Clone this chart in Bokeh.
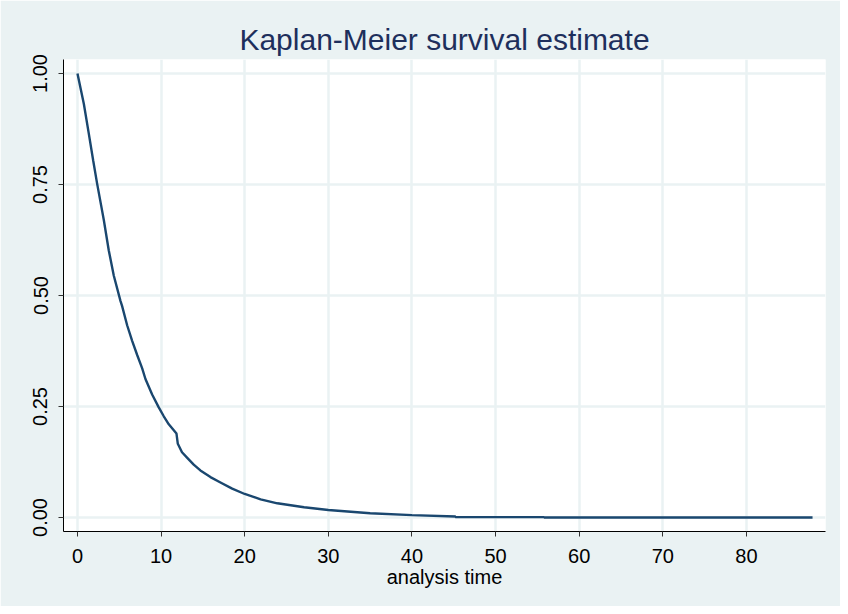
from bokeh.plotting import figure
from bokeh.models import Range1d, FixedTicker
from bokeh.embed import file_html
from bokeh.resources import INLINE

# Kaplan-Meier survival estimate
analysis_time = [0.0, 0.76, 1.36, 1.88, 2.35, 2.83, 3.15, 3.74, 4.34, 5.14, 5.34, 5.94,
                 6.54, 7.14, 7.74, 8.13, 8.93, 9.72, 10.32, 10.92, 11.84, 12.0, 12.5,
                 13.1, 13.9, 14.7, 15.9, 17.1, 18.5, 20.0, 21.9, 23.9, 27.1, 30.0,
                 35.0, 40.0, 45.2, 45.2, 55.8, 55.8, 87.9]
survival = [1.0, 0.932, 0.864, 0.804, 0.752, 0.703, 0.670, 0.602, 0.545, 0.488, 0.476, 0.433,
            0.398, 0.366, 0.336, 0.312, 0.277, 0.248, 0.228, 0.210, 0.189, 0.166, 0.147,
            0.135, 0.119, 0.106, 0.091, 0.079, 0.065, 0.053, 0.041, 0.032, 0.023, 0.017,
            0.0097, 0.0053, 0.0023, 0.0008, 0.0008, 0.0, 0.0]

x_ticks = [0, 10, 20, 30, 40, 50, 60, 70, 80]
x_tick_labels = ["0", "10", "20", "30", "40", "50", "60", "70", "80"]
y_ticks = [0.0, 0.25, 0.5, 0.75, 1.0]
y_tick_labels = ["0.00", "0.25", "0.50", "0.75", "1.00"]

TINT = "#EAF2F3"
NAVY = "#1A476F"
FONT = "Liberation Sans"

p = figure(width=840, height=606, output_backend="svg", toolbar_location=None,
           x_range=Range1d(-1.67, 89.45), y_range=Range1d(-0.0315, 1.0315),
           title="Kaplan-Meier survival estimate",
           min_border_left=63, min_border_right=15, min_border_top=59, min_border_bottom=75)

p.border_fill_color = TINT
p.background_fill_color = "white"
p.outline_line_color = None

p.title.align = "center"
p.title.text_font = FONT
p.title.text_font_size = "30px"
p.title.text_font_style = "normal"
p.title.text_color = "#1E2F5C"
p.title.standoff = 8

p.line(analysis_time, survival, line_color=NAVY, line_width=2.4)

for ax in (p.xaxis[0], p.yaxis[0]):
    ax.axis_line_color = "black"
    ax.axis_line_width = 1
    ax.major_tick_line_color = "#333333"
    ax.major_tick_in = 0
    ax.major_tick_out = 5
    ax.minor_tick_line_color = None
    ax.major_label_text_font = FONT
    ax.major_label_text_font_size = "20px"
    ax.major_label_text_color = "black"

p.xaxis.ticker = FixedTicker(ticks=x_ticks)
p.xaxis.major_label_overrides = dict(zip(x_ticks, x_tick_labels))
p.yaxis.ticker = FixedTicker(ticks=y_ticks)
p.yaxis.major_label_overrides = dict(zip(y_ticks, y_tick_labels))
p.yaxis.major_label_orientation = "vertical"
p.yaxis.major_label_standoff = 11
p.xaxis.major_label_standoff = 12

p.xaxis.axis_label = "analysis time"
p.xaxis.axis_label_text_font = FONT
p.xaxis.axis_label_text_font_size = "20px"
p.xaxis.axis_label_text_font_style = "normal"
p.xaxis.axis_label_text_color = "black"
p.xaxis.axis_label_standoff = 0

p.xgrid.grid_line_color = TINT
p.ygrid.grid_line_color = TINT
p.xgrid.grid_line_width = 2.5
p.ygrid.grid_line_width = 2.5

open("out.html", "w").write(file_html(p, INLINE))
